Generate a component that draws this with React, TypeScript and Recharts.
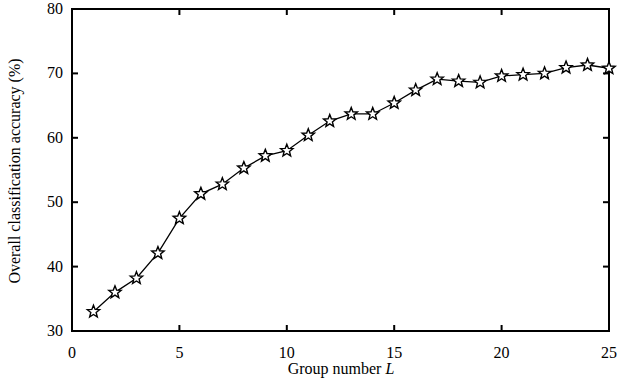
import React from "react";
import { LineChart, Line, XAxis, YAxis, Label, ReferenceArea } from "recharts";

const groups = [1, 2, 3, 4, 5, 6, 7, 8, 9, 10, 11, 12, 13, 14, 15, 16, 17, 18, 19, 20, 21, 22, 23, 24, 25];
const accuracy = [
  33.0, 36.0, 38.2, 42.1, 47.5, 51.3, 52.8, 55.3, 57.2, 58.0, 60.4, 62.6, 63.7, 63.7, 65.4, 67.4, 69.1, 68.8, 68.6,
  69.6, 69.8, 70.0, 70.9, 71.3, 70.8,
];
const xTicks = [0, 5, 10, 15, 20, 25];
const yTicks = [30, 40, 50, 60, 70, 80];

const data = groups.map((g, i) => ({ group: g, acc: accuracy[i] }));

const FONT = '"Liberation Serif", "DejaVu Serif", serif';
// plot frame (matches chart margins + axis sizes below)
const FRAME = { left: 72, right: 609, top: 9, bottom: 331 };
const TICK_LEN = 6;
const TW = 2;

// hollow five-point star marker
function Star(props: any) {
  const { cx, cy } = props;
  if (cx == null || cy == null) return null;
  const pts: string[] = [];
  for (let k = 0; k < 10; k++) {
    const r = k % 2 === 0 ? 6.5 : 2.8;
    const a = -Math.PI / 2 + (k * Math.PI) / 5;
    pts.push(`${cx + r * Math.cos(a)},${cy + r * Math.sin(a)}`);
  }
  return <polygon points={pts.join(" ")} fill="#fff" stroke="#000" strokeWidth={1.4} />;
}

// x tick: label + inward tick marks on bottom and top of the frame
function XTick(props: any) {
  const { x, y, payload } = props;
  return (
    <g>
      <rect x={x - TW / 2} y={FRAME.bottom - TICK_LEN} width={TW} height={TICK_LEN} fill="#000" />
      <rect x={x - TW / 2} y={FRAME.top} width={TW} height={TICK_LEN} fill="#000" />
      <text x={x} y={y + 11} textAnchor="middle" fontFamily={FONT} fontSize={16} fill="#000">
        {payload.value}
      </text>
    </g>
  );
}

// y tick: label + inward tick marks on left and right of the frame
function YTick(props: any) {
  const { x, y, payload } = props;
  return (
    <g>
      <rect x={FRAME.left} y={y - TW / 2} width={TICK_LEN} height={TW} fill="#000" />
      <rect x={FRAME.right - TICK_LEN} y={y - TW / 2} width={TICK_LEN} height={TW} fill="#000" />
      <text x={x} y={y + 5} textAnchor="end" fontFamily={FONT} fontSize={16} fill="#000">
        {payload.value}
      </text>
    </g>
  );
}

export default function App() {
  return (
    <div style={{ position: "absolute", left: 0, top: 0, width: 630, height: 384, background: "#fff" }}>
      <LineChart width={630} height={384} data={data} margin={{ top: 9, right: 21, left: 22, bottom: 23 }}>
        <XAxis
          dataKey="group"
          type="number"
          domain={[0, 25]}
          ticks={xTicks}
          height={30}
          tickSize={0}
          tickMargin={16}
          tickLine={false}
          axisLine={false}
          tick={<XTick />}
        >
          <Label
            content={() => (
              <text x={341} y={374} textAnchor="middle" fontFamily={FONT} fontSize={16} fill="#000">
                Group number <tspan fontStyle="italic">L</tspan>
              </text>
            )}
          />
        </XAxis>
        <YAxis
          type="number"
          domain={[30, 80]}
          ticks={yTicks}
          width={50}
          tickSize={0}
          tickMargin={9}
          tickLine={false}
          axisLine={false}
          tick={<YTick />}
        >
          <Label
            content={() => (
              <text
                x={20}
                y={171}
                transform="rotate(-90 20 171)"
                textAnchor="middle"
                fontFamily={FONT}
                fontSize={16}
                fill="#000"
              >
                Overall classification accuracy (%)
              </text>
            )}
          />
        </YAxis>
        <ReferenceArea
          x1={0}
          x2={25}
          y1={30}
          y2={80}
          fill="#fff"
          fillOpacity={0}
          stroke="#000"
          strokeWidth={2}
          strokeOpacity={1}
          ifOverflow="visible"
        />
        <Line
          dataKey="acc"
          type="linear"
          stroke="#000"
          strokeWidth={1.3}
          dot={<Star />}
          activeDot={false}
          isAnimationActive={false}
        />
      </LineChart>
    </div>
  );
}
